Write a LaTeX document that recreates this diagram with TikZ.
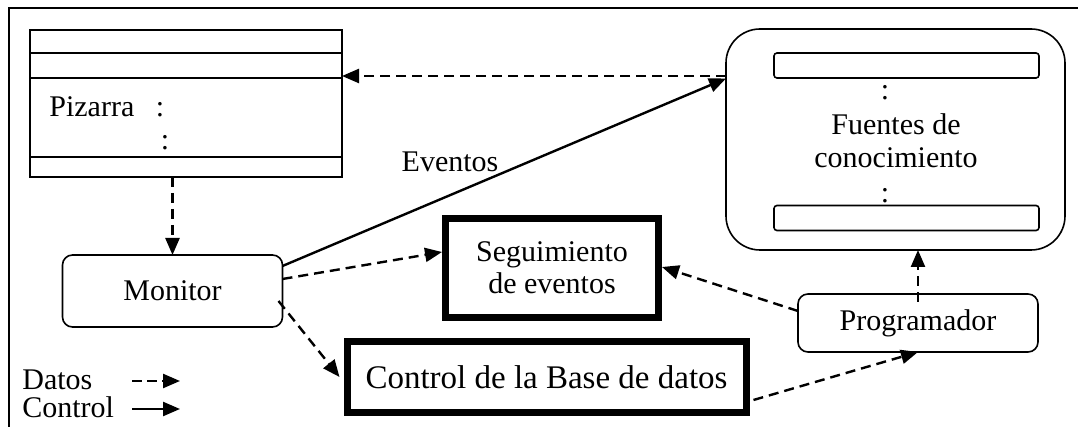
\documentclass[tikz,border=0pt]{standalone}
\usepackage{fontspec}
\setmainfont{Liberation Serif}
\usetikzlibrary{arrows.meta}
\tikzset{
  thinbox/.style={draw, line width=0.8pt, inner sep=0pt, outer sep=0pt},
  roundbox/.style={thinbox, rounded corners=5pt},
  thickbox/.style={draw, line width=3.5pt, inner sep=0pt, align=center},
  bar/.style={thinbox, rounded corners=1.5pt, minimum width=132.5pt, minimum height=12.5pt},
  txt/.style={inner sep=0pt, anchor=base, font=\fontsize{15}{16.5}\selectfont},
  datos/.style={line width=1.2pt, dash pattern=on 5pt off 3pt, -{Triangle[length=8.5pt,width=7pt]}},
  control/.style={line width=1.2pt, -{Triangle[length=8.5pt,width=7pt]}},
}
\begin{document}
\begin{tikzpicture}[x=0.5pt,y=-0.5pt, font=\fontsize{15}{16.5}\selectfont]
\useasboundingbox (0,0) rectangle (1078,427);
% outer frame (right and bottom cut off)
\draw[line width=1pt] (9,427) -- (9,8) -- (1078,8);

% Pizarra
\node[thinbox, minimum width=156pt, minimum height=73.5pt] (pizarra) at (186,103.5) {};
\draw[line width=0.8pt] (pizarra.west |- 0,53) -- (pizarra.east |- 0,53);
\draw[line width=0.8pt] (pizarra.west |- 0,78) -- (pizarra.east |- 0,78);
\draw[line width=0.8pt] (pizarra.west |- 0,157) -- (pizarra.east |- 0,157);
\node[txt, anchor=base west] (pizt) at (49,117) {Pizarra};
\node[txt] (pizc1) at (160,117) {:};
\node[txt] (pizc2) at (165,150) {:};

% Fuentes de conocimiento
\node[thinbox, rounded corners=17pt, minimum width=169.5pt, minimum height=110.5pt] (fuentes) at (895.5,139.5) {};
\node[bar] (bar1) at (906.5,65.5) {};
\node[bar] (bar2) at (906.5,218) {};
\node[txt] (fd1) at (885,100) {:};
\node[txt] (fd2) at (885,203) {:};
\node[txt] (ft1) at (896,135) {Fuentes de};
\node[txt] (ft2) at (896,168) {conocimiento};

% Monitor
\node[roundbox, minimum width=110pt, minimum height=36pt] (monitor) at (172.5,291) {Monitor};

% Seguimiento de eventos
\node[thickbox, minimum width=106.5pt, minimum height=49.5pt] (seg) at (552,268) {Seguimiento\\[-0.5pt]de eventos};

% Control de la Base de datos
\node[thickbox, minimum width=199.5pt, minimum height=35.5pt, font=\fontsize{16.5}{18}\selectfont] (cbd) at (546.5,377) {Control de la Base de datos};

% Programador
\node[roundbox, minimum width=120pt, minimum height=29pt] (prog) at (918,323) {Programador};

% connectors
\draw[control] ([yshift=12.5pt]monitor.east) -- ([yshift=30.5pt]fuentes.west);
\node[txt] (ev) at (450,172) {Eventos};
\draw[datos] ([yshift=31.75pt]fuentes.west) -- ([yshift=13.75pt]pizarra.east);
\draw[datos] (pizarra.south -| monitor.north) -- (monitor.north);
\draw[datos] ([yshift=6pt]monitor.east) -- ([yshift=8pt]seg.west);
\draw[datos] ([xshift=-2pt,yshift=-5pt]monitor.east) -- ([xshift=-2pt]cbd.west);
\draw[datos] ([yshift=6pt]prog.west) -- ([yshift=0.5pt]seg.east);
\draw[datos] ([xshift=2pt,yshift=-11.5pt]cbd.east) -- (prog.south);
\draw[datos] ([yshift=-4pt]prog.north) -- (prog.north |- fuentes.south);

% legend
\node[txt, anchor=base west] (ld) at (22,390) {Datos};
\node[txt, anchor=base west] (lc) at (22,418) {Control};
\coordinate (ld1) at (132,381);
\coordinate (ld2) at (180,381);
\coordinate (lc1) at (132,409);
\coordinate (lc2) at (180,409);
\draw[datos, dash pattern=on 5pt off 2.5pt] (ld1) -- (ld2);
\draw[control] (lc1) -- (lc2);
\end{tikzpicture}
\end{document}
